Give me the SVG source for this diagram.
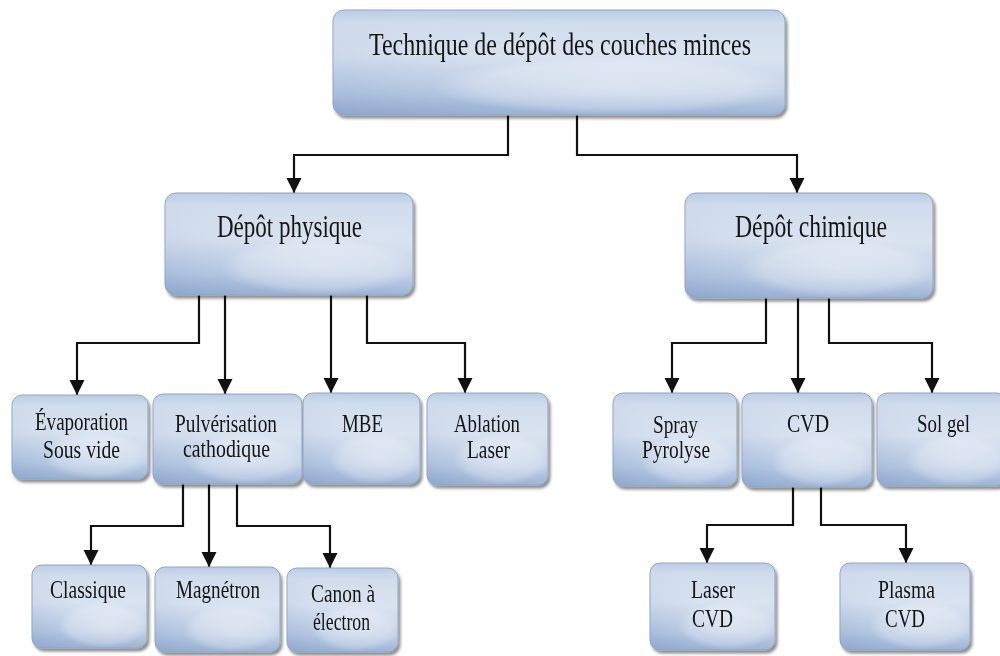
<svg xmlns="http://www.w3.org/2000/svg" width="1000" height="656" viewBox="0 0 1000 656">
<defs>
<linearGradient id="gBase" x1="0" y1="0" x2="0" y2="1">
<stop offset="0" stop-color="#b9cbe4"/>
<stop offset="0.12" stop-color="#d0dcec"/>
<stop offset="0.45" stop-color="#dae3f0"/>
<stop offset="0.8" stop-color="#bfcfe6"/>
<stop offset="1" stop-color="#9ab1d3"/>
</linearGradient>
<linearGradient id="gDiag" x1="0" y1="1" x2="0.7" y2="0.2">
<stop offset="0" stop-color="#86a0c9" stop-opacity="0.6"/>
<stop offset="0.5" stop-color="#a9bedc" stop-opacity="0.15"/>
<stop offset="1" stop-color="#ffffff" stop-opacity="0"/>
</linearGradient>
<radialGradient id="gHi" cx="0.62" cy="0.72" r="0.4" gradientTransform="translate(0.62 0.72) scale(1 0.7) translate(-0.62 -0.72)">
<stop offset="0" stop-color="#ffffff" stop-opacity="0.4"/>
<stop offset="0.75" stop-color="#ffffff" stop-opacity="0.25"/>
<stop offset="1" stop-color="#ffffff" stop-opacity="0"/>
</radialGradient>
<filter id="sh" x="-10%" y="-10%" width="125%" height="130%">
<feGaussianBlur in="SourceAlpha" stdDeviation="1.5"/>
<feOffset dx="2" dy="3" result="o"/>
<feComponentTransfer><feFuncA type="linear" slope="0.45"/></feComponentTransfer>
<feMerge><feMergeNode/><feMergeNode in="SourceGraphic"/></feMerge>
</filter>
<marker id="arr" markerUnits="userSpaceOnUse" markerWidth="15" markerHeight="16" refX="15" refY="7.5" orient="auto">
<path d="M0,0 L15,7.5 L0,15 z" fill="#111"/>
</marker>
</defs>
<style>
.bx{fill:url(#gBase);stroke:#8ea3c2;stroke-width:1}
.ov{fill:url(#gDiag);stroke:none}
.hi{fill:url(#gHi);stroke:none}
.t{font-family:"Liberation Serif","Times New Roman",serif;fill:#151515;text-anchor:middle}
.big{font-size:31px}
.sm{font-size:25px}
.cn path{fill:none;stroke:#111;stroke-width:2.2;marker-end:url(#arr)}
</style>
<rect width="1000" height="656" fill="#ffffff"/>

<g id="connectors" class="cn">
<path d="M508,115 V155 H294 V193"/>
<path d="M577,115 V155 H797 V193"/>
<path d="M199,295 V343 H77 V395"/>
<path d="M225,295 V394"/>
<path d="M331,295 V393"/>
<path d="M367,295 V343 H465 V393"/>
<path d="M766,298 V343 H672 V393"/>
<path d="M798,298 V393"/>
<path d="M829,298 V343 H932 V393"/>
<path d="M183,484 V526 H91 V565"/>
<path d="M209,484 V567"/>
<path d="M237,484 V526 H330 V568"/>
<path d="M793,487 V525 H707 V563"/>
<path d="M821,487 V525 H906 V563"/>
</g>

<g id="n-top" filter="url(#sh)">
<rect class="bx" x="333" y="10" width="452" height="105" rx="11"/>
<rect class="ov" x="333" y="10" width="452" height="105" rx="11"/>
<rect class="hi" x="333" y="10" width="452" height="105" rx="11"/>
<text class="t big" x="560" y="55" textLength="382" lengthAdjust="spacingAndGlyphs">Technique de dépôt des couches minces</text>
</g>

<g id="n-physique" filter="url(#sh)">
<rect class="bx" x="165" y="193" width="248" height="102" rx="11"/>
<rect class="ov" x="165" y="193" width="248" height="102" rx="11"/>
<rect class="hi" x="165" y="193" width="248" height="102" rx="11"/>
<text class="t big" x="289.5" y="237" textLength="145" lengthAdjust="spacingAndGlyphs">Dépôt physique</text>
</g>

<g id="n-chimique" filter="url(#sh)">
<rect class="bx" x="685" y="193" width="248" height="105" rx="11"/>
<rect class="ov" x="685" y="193" width="248" height="105" rx="11"/>
<rect class="hi" x="685" y="193" width="248" height="105" rx="11"/>
<text class="t big" x="811" y="237" textLength="152" lengthAdjust="spacingAndGlyphs">Dépôt chimique</text>
</g>

<g id="n-evaporation" filter="url(#sh)">
<rect class="bx" x="12" y="395" width="136" height="84" rx="10"/>
<rect class="ov" x="12" y="395" width="136" height="84" rx="10"/>
<rect class="hi" x="12" y="395" width="136" height="84" rx="10"/>
<text class="t sm" x="81.5" y="430" textLength="93" lengthAdjust="spacingAndGlyphs">Évaporation</text>
<text class="t sm" x="81.5" y="458" textLength="77" lengthAdjust="spacingAndGlyphs">Sous vide</text>
</g>

<g id="n-pulverisation" filter="url(#sh)">
<rect class="bx" x="153" y="394" width="149" height="90" rx="10"/>
<rect class="ov" x="153" y="394" width="149" height="90" rx="10"/>
<rect class="hi" x="153" y="394" width="149" height="90" rx="10"/>
<text class="t sm" x="226" y="432" textLength="102" lengthAdjust="spacingAndGlyphs">Pulvérisation</text>
<text class="t sm" x="226.5" y="457" textLength="87" lengthAdjust="spacingAndGlyphs">cathodique</text>
</g>

<g id="n-mbe" filter="url(#sh)">
<rect class="bx" x="303" y="393" width="117" height="91" rx="10"/>
<rect class="ov" x="303" y="393" width="117" height="91" rx="10"/>
<rect class="hi" x="303" y="393" width="117" height="91" rx="10"/>
<text class="t sm" x="362.5" y="432" textLength="41" lengthAdjust="spacingAndGlyphs">MBE</text>
</g>

<g id="n-ablation" filter="url(#sh)">
<rect class="bx" x="427" y="393" width="121" height="92" rx="10"/>
<rect class="ov" x="427" y="393" width="121" height="92" rx="10"/>
<rect class="hi" x="427" y="393" width="121" height="92" rx="10"/>
<text class="t sm" x="487" y="432" textLength="66" lengthAdjust="spacingAndGlyphs">Ablation</text>
<text class="t sm" x="488.5" y="458" textLength="43" lengthAdjust="spacingAndGlyphs">Laser</text>
</g>

<g id="n-spray" filter="url(#sh)">
<rect class="bx" x="613" y="393" width="124" height="93" rx="10"/>
<rect class="ov" x="613" y="393" width="124" height="93" rx="10"/>
<rect class="hi" x="613" y="393" width="124" height="93" rx="10"/>
<text class="t sm" x="675.5" y="433" textLength="45" lengthAdjust="spacingAndGlyphs">Spray</text>
<text class="t sm" x="676" y="458" textLength="68" lengthAdjust="spacingAndGlyphs">Pyrolyse</text>
</g>

<g id="n-cvd" filter="url(#sh)">
<rect class="bx" x="742" y="393" width="130" height="94" rx="10"/>
<rect class="ov" x="742" y="393" width="130" height="94" rx="10"/>
<rect class="hi" x="742" y="393" width="130" height="94" rx="10"/>
<text class="t sm" x="808" y="432" textLength="42" lengthAdjust="spacingAndGlyphs">CVD</text>
</g>

<g id="n-solgel" filter="url(#sh)">
<rect class="bx" x="877" y="393" width="130" height="93" rx="10"/>
<rect class="ov" x="877" y="393" width="130" height="93" rx="10"/>
<rect class="hi" x="877" y="393" width="130" height="93" rx="10"/>
<text class="t sm" x="943.5" y="432" textLength="53" lengthAdjust="spacingAndGlyphs">Sol gel</text>
</g>

<g id="n-classique" filter="url(#sh)">
<rect class="bx" x="32" y="565" width="115" height="83" rx="10"/>
<rect class="ov" x="32" y="565" width="115" height="83" rx="10"/>
<rect class="hi" x="32" y="565" width="115" height="83" rx="10"/>
<text class="t sm" x="88" y="598" textLength="76" lengthAdjust="spacingAndGlyphs">Classique</text>
</g>

<g id="n-magnetron" filter="url(#sh)">
<rect class="bx" x="155" y="567" width="125" height="85" rx="10"/>
<rect class="ov" x="155" y="567" width="125" height="85" rx="10"/>
<rect class="hi" x="155" y="567" width="125" height="85" rx="10"/>
<text class="t sm" x="218" y="598" textLength="84" lengthAdjust="spacingAndGlyphs">Magnétron</text>
</g>

<g id="n-canon" filter="url(#sh)">
<rect class="bx" x="287" y="568" width="111" height="84" rx="10"/>
<rect class="ov" x="287" y="568" width="111" height="84" rx="10"/>
<rect class="hi" x="287" y="568" width="111" height="84" rx="10"/>
<text class="t sm" x="343" y="602" textLength="64" lengthAdjust="spacingAndGlyphs">Canon à</text>
<text class="t sm" x="341.5" y="630" textLength="57" lengthAdjust="spacingAndGlyphs">électron</text>
</g>

<g id="n-lasercvd" filter="url(#sh)">
<rect class="bx" x="650" y="563" width="125" height="87" rx="10"/>
<rect class="ov" x="650" y="563" width="125" height="87" rx="10"/>
<rect class="hi" x="650" y="563" width="125" height="87" rx="10"/>
<text class="t sm" x="713" y="598" textLength="44" lengthAdjust="spacingAndGlyphs">Laser</text>
<text class="t sm" x="712.5" y="627" textLength="41" lengthAdjust="spacingAndGlyphs">CVD</text>
</g>

<g id="n-plasmacvd" filter="url(#sh)">
<rect class="bx" x="840" y="563" width="130" height="87" rx="10"/>
<rect class="ov" x="840" y="563" width="130" height="87" rx="10"/>
<rect class="hi" x="840" y="563" width="130" height="87" rx="10"/>
<text class="t sm" x="906.5" y="598" textLength="57" lengthAdjust="spacingAndGlyphs">Plasma</text>
<text class="t sm" x="905" y="627" textLength="40" lengthAdjust="spacingAndGlyphs">CVD</text>
</g>
</svg>
